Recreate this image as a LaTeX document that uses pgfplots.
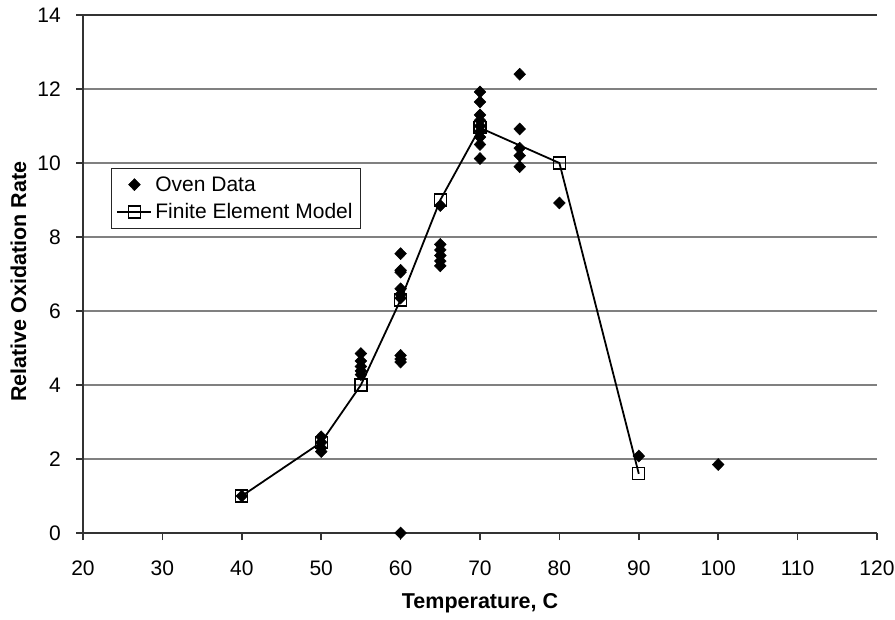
\documentclass[border=0pt]{standalone}
\usepackage{fontspec}
\setmainfont{Liberation Sans}
\usepackage{pgfplots}
\pgfplotsset{compat=1.18}
\begin{document}
\begin{tikzpicture}
\begin{axis}[
  name=ax,
  scale only axis,
  width=794pt, height=518pt,
  xmin=20, xmax=120, ymin=0, ymax=14,
  xtick={20,30,...,120},
  ytick={0,2,...,12},
  extra y ticks={14},
  extra y tick style={grid style={black!80, line width=2pt}},
  axis x line*=bottom, axis y line*=left,
  axis line style={-, black!80, line width=2pt},
  tick align=outside,
  major tick length=7pt,
  tick style={black!80, line width=1.5pt},
  ymajorgrids,
  grid style={black!50, line width=1.6pt},
  /pgf/number format/assume math mode=true,
  ticklabel style={font=\fontsize{21}{24}\selectfont},
  xticklabel style={anchor=center, inner sep=0pt, yshift=-28pt},
  yticklabel style={anchor=east, inner sep=0pt, xshift=-15pt},
  xlabel={Temperature, C},
  ylabel={Relative Oxidation Rate},
  label style={font=\bfseries\fontsize{21.5}{24}\selectfont},
  xlabel style={at={(rel axis cs:0.5,-0.135)}, anchor=center},
  ylabel style={at={(rel axis cs:-0.0812,0.485)}, anchor=center},
  legend style={at={(axis cs:23.5,9.87)}, anchor=north west, draw=black!85, line width=1.5pt,
    font=\fontsize{21}{24}\selectfont, inner xsep=5pt, inner ysep=5pt, row sep=5pt,
    nodes={inner sep=3pt}},
  legend cell align=left,
  legend image code/.code={\draw[mark repeat=2,mark phase=2,#1] plot coordinates {(0pt,0pt) (17pt,0pt) (34pt,0pt)};},
]
\addplot[only marks, black, mark=diamond*, mark size=6pt, mark options={xscale=1.3, line width=0.5pt}] coordinates {
(40,1.0)
(50,2.6) (50,2.45) (50,2.3) (50,2.2)
(55,4.85) (55,4.65) (55,4.5) (55,4.38) (55,4.28)
(60,7.55) (60,7.1) (60,7.05) (60,6.6) (60,6.45) (60,6.35) (60,4.8) (60,4.7) (60,4.62) (60,0)
(65,8.85) (65,7.8) (65,7.65) (65,7.5) (65,7.35) (65,7.22)
(70,11.92) (70,11.65) (70,11.3) (70,11.15) (70,11.0) (70,10.85) (70,10.7) (70,10.5) (70,10.12)
(75,12.4) (75,10.92) (75,10.4) (75,10.2) (75,9.9)
(80,8.92)
(90,2.08)
(100,1.85)
};
\addlegendentry{Oven Data}
\addplot[black, line width=1.8pt, mark=square, mark size=6pt, mark options={line width=1.2pt, fill=none}] coordinates {
(40,1.0) (50,2.45) (55,4.0) (60,6.3) (65,9.0) (70,10.95) (80,10.0) (90,1.6)
};
\addlegendentry{Finite Element Model}
\end{axis}
\pgfresetboundingbox
\path ([shift={(-83pt,-86pt)}]ax.south west) rectangle ([shift={(812pt,533pt)}]ax.south west);
\end{tikzpicture}
\end{document}
